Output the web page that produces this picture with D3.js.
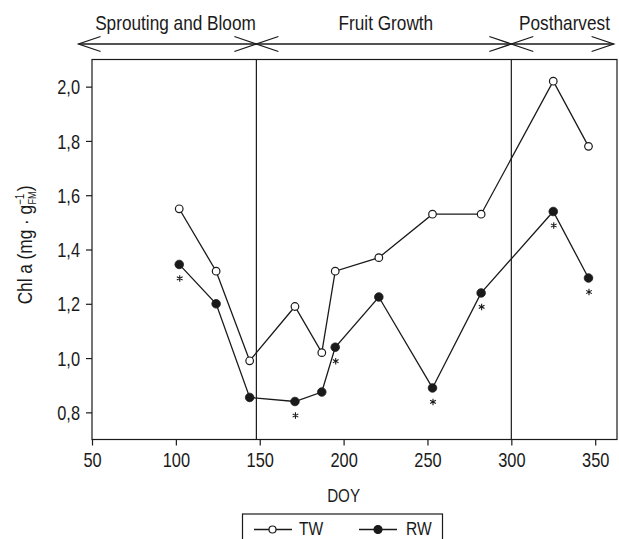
<!DOCTYPE html>
<html>
<head>
<meta charset="utf-8">
<script src="https://cdn.jsdelivr.net/npm/d3@7"></script>
<style>
  html, body { margin: 0; padding: 0; background: #fff; }
  svg { display: block; }
  text { font-family: "Liberation Sans", Arial, sans-serif; fill: #1a1a1a; }
</style>
</head>
<body>
<svg id="chart" width="619" height="539"></svg>
<script>
// ---- data ----
const doy = [102, 124, 144, 171, 187, 195, 221, 253, 282, 325, 346];
const tw  = [1.55, 1.32, 0.99, 1.19, 1.02, 1.32, 1.37, 1.53, 1.53, 2.02, 1.78];
const rw  = [1.345, 1.20, 0.855, 0.84, 0.875, 1.04, 1.225, 0.89, 1.24, 1.54, 1.295];
const significant = [1, 0, 0, 1, 0, 1, 0, 1, 1, 1, 1];
const xTicks = [50, 100, 150, 200, 250, 300, 350];
const yTicks = [0.8, 1.0, 1.2, 1.4, 1.6, 1.8, 2.0];
const phaseNames = ["Sprouting and Bloom", "Fruit Growth", "Postharvest"];
const phaseBounds = [42, 148, 300, 361];
const dividers = [148, 300];
const seriesNames = ["TW", "RW"];

// ---- layout ----
const svg = d3.select("#chart");
const L = 92, R = 617, T = 59.5, B = 439.5;
const SX = 0.82; // horizontal condensing to mimic a condensed sans
const x = d3.scaleLinear().domain([50, 363]).range([L, R]);
const y = d3.scaleLinear().domain([0.7, 2.1]).range([B, T]);
const ink = "#1a1a1a";

function addText(px, py, str, size, anchor, extra) {
  return svg.append("text")
    .attr("transform", `translate(${px},${py}) ${extra || ""} scale(${SX},1)`)
    .attr("text-anchor", anchor || "middle").attr("font-size", size).text(str);
}

// frame
svg.append("rect").attr("x", L).attr("y", T).attr("width", R - L).attr("height", B - T)
  .attr("fill", "none").attr("stroke", ink).attr("stroke-width", 1.2);

// dividers
svg.selectAll("line.div").data(dividers).enter().append("line")
  .attr("x1", d => x(d)).attr("x2", d => x(d)).attr("y1", T).attr("y2", B)
  .attr("stroke", ink).attr("stroke-width", 1.2);

// axes
const fmt = d => d3.format(".1f")(d).replace(".", ",");
const xAxis = svg.append("g").attr("transform", `translate(0,${B})`)
  .call(d3.axisBottom(x).tickValues(xTicks).tickSize(6).tickFormat(d3.format("d")));
const yAxis = svg.append("g").attr("transform", `translate(${L},0)`)
  .call(d3.axisLeft(y).tickValues(yTicks).tickSize(6).tickFormat(fmt));
[xAxis, yAxis].forEach(g => {
  g.attr("font-family", null).attr("font-size", null);
  g.select(".domain").remove();
  g.selectAll(".tick line").attr("stroke", ink).attr("stroke-width", 1.2);
  g.selectAll(".tick text").attr("font-size", 20).attr("fill", ink);
});
xAxis.selectAll(".tick text").attr("y", 27.5).attr("dy", 0).attr("transform", `scale(${SX},1)`);
yAxis.selectAll(".tick text").attr("x", -12 / SX).attr("dy", "0.36em").attr("transform", `scale(${SX},1)`);

// axis titles
addText((x(50) + x(350)) / 2, 502, "DOY", 18.5);
const yl = addText(32, 245, "", 21, "middle", "rotate(-90)");
yl.append("tspan").text("Chl a (mg · g");
yl.append("tspan").attr("font-size", 12).attr("dy", -8).text("−1");
yl.append("tspan").attr("font-size", 11).attr("dx", -13).attr("dy", 12).text("FM");
yl.append("tspan").attr("dy", -4).text(")");

// phase arrows
const ay = 44;
phaseNames.forEach((name, i) => {
  const x0 = x(phaseBounds[i]), x1 = x(phaseBounds[i + 1]);
  svg.append("line").attr("x1", x0).attr("x2", x1).attr("y1", ay).attr("y2", ay)
    .attr("stroke", ink).attr("stroke-width", 1.3);
  const al = 22, ah = 7.5;
  svg.append("path").attr("d", `M${x0 + al},${ay - ah}L${x0},${ay}L${x0 + al},${ay + ah}`)
    .attr("fill", "none").attr("stroke", ink).attr("stroke-width", 1.3);
  svg.append("path").attr("d", `M${x1 - al},${ay - ah}L${x1},${ay}L${x1 - al},${ay + ah}`)
    .attr("fill", "none").attr("stroke", ink).attr("stroke-width", 1.3);
  addText((x0 + x1) / 2 + (i === 0 ? 8 : 2), 29.5, name, 21);
});

// series
const line = d3.line().x(d => x(d[0])).y(d => y(d[1]));
const twPts = doy.map((d, i) => [d, tw[i]]);
const rwPts = doy.map((d, i) => [d, rw[i]]);
[twPts, rwPts].forEach(pts => {
  svg.append("path").attr("d", line(pts)).attr("fill", "none").attr("stroke", ink).attr("stroke-width", 1.3);
});
svg.selectAll("circle.tw").data(twPts).enter().append("circle")
  .attr("cx", d => x(d[0])).attr("cy", d => y(d[1])).attr("r", 3.8)
  .attr("fill", "#fff").attr("stroke", ink).attr("stroke-width", 1.2);
svg.selectAll("circle.rw").data(rwPts).enter().append("circle")
  .attr("cx", d => x(d[0])).attr("cy", d => y(d[1])).attr("r", 4.3)
  .attr("fill", ink).attr("stroke", ink).attr("stroke-width", 0.8);

// significance asterisks
const star = d3.symbol().type(d3.symbolAsterisk).size(30);
svg.selectAll("path.sig").data(rwPts.filter((d, i) => significant[i])).enter().append("path")
  .attr("d", star).attr("transform", d => `translate(${x(d[0]) + 0.5},${y(d[1]) + 14})`)
  .attr("fill", "none").attr("stroke", ink).attr("stroke-width", 1.1);

// legend
svg.append("rect").attr("x", 242.5).attr("y", 514).attr("width", 200).attr("height", 40)
  .attr("fill", "#fff").attr("stroke", ink).attr("stroke-width", 1.2);
const ly = 529.5;
[[254, 292, 272.5, 299, false], [359, 397, 378, 406, true]].forEach((c, i) => {
  svg.append("line").attr("x1", c[0]).attr("x2", c[1]).attr("y1", ly).attr("y2", ly)
    .attr("stroke", ink).attr("stroke-width", 1.3);
  svg.append("circle").attr("cx", c[2]).attr("cy", ly).attr("r", c[4] ? 4 : 3.5)
    .attr("fill", c[4] ? ink : "#fff").attr("stroke", ink).attr("stroke-width", 1.2);
  addText(c[3], 534.5, seriesNames[i], 19, "start");
});
</script>
</body>
</html>
